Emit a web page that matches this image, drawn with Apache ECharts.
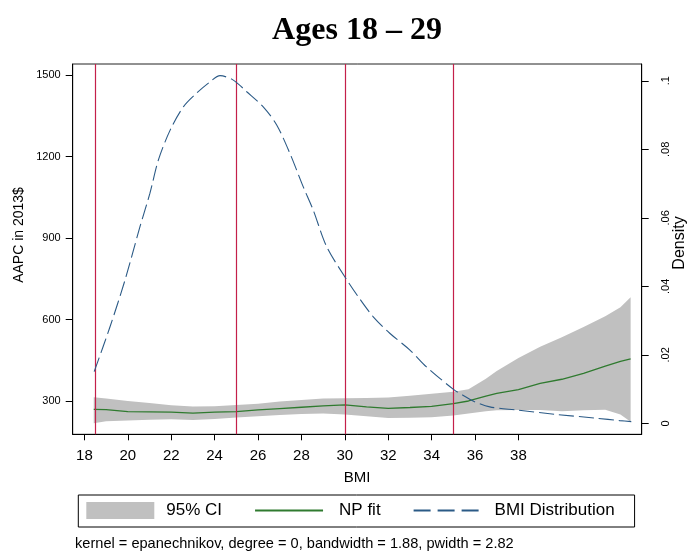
<!DOCTYPE html>
<html>
<head>
<meta charset="utf-8">
<script src="https://cdn.jsdelivr.net/npm/echarts@6/dist/echarts.min.js"></script>
<style>html,body{margin:0;padding:0;background:#fff}#c{width:694px;height:552px}</style>
</head>
<body>
<div id="c"></div>
<script>
// ---- data ----
const fitBmi   = [18.43, 19, 20, 21, 22, 23, 24, 25, 26, 27, 28, 29, 30, 31, 32, 33, 34, 35, 35.7, 36.5, 37, 38, 39, 40, 41, 42, 42.7, 43.17];
const npFit    = [269, 268, 261, 260, 259, 255, 259, 261, 267, 272, 277, 282, 286, 278, 273, 276, 280, 290, 300, 318, 328, 342, 365, 380, 402, 428, 446, 455];
const ciUpper  = [314, 309, 300, 293, 284, 280, 281, 285, 290, 298, 304, 309, 310, 311, 313, 319, 327, 334, 343, 382, 410, 458, 500, 535, 572, 612, 645, 682];
const ciLower  = [218, 225, 228, 231, 233, 230, 234, 239, 244, 248, 252, 254, 250, 244, 237, 238, 240, 247, 254, 262, 266, 267, 267, 262, 266, 268, 250, 224];
const densBmi  = [18.45, 19.18, 19.87, 20.56, 21.02, 21.41, 21.95, 22.56, 23.17, 23.79, 24.25, 24.86, 25.48, 26.24, 26.86, 27.47, 28.08, 28.54, 29.16, 30.05, 30.69, 31.31, 32.07, 33.0, 33.76, 34.99, 35.5, 35.91, 36.68, 37.91, 39.75, 41.59, 42.66, 43.2];
const densVal  = [0.0151, 0.0282, 0.0418, 0.0574, 0.0672, 0.0769, 0.0856, 0.0924, 0.0964, 0.0997, 0.1015, 0.1002, 0.0968, 0.0924, 0.0871, 0.0788, 0.0691, 0.0623, 0.0516, 0.0423, 0.0363, 0.0311, 0.0263, 0.0214, 0.0165, 0.0100, 0.0080, 0.0065, 0.0048, 0.0039, 0.0026, 0.0015, 0.0008, 0.0005];
const cutoffs  = [18.5, 25, 30, 35];
const xTicks   = [18, 20, 22, 24, 26, 28, 30, 32, 34, 36, 38];
const yTicks   = [300, 600, 900, 1200, 1500];
const y2Ticks  = [0, 0.02, 0.04, 0.06, 0.08, 0.1];
const titleText = 'Ages 18 – 29';
const noteText = 'kernel = epanechnikov, degree = 0, bandwidth = 1.88, pwidth = 2.82';

const GREEN = '#2f7a2f', NAVY = '#2b5a86', RED = '#c4204a', GRAY = '#c0c0c0';
const SANS = 'Liberation Sans, Arial, sans-serif';

const bandData  = fitBmi.map((x, i) => [x, ciLower[i], ciUpper[i]]);
const fitData   = fitBmi.map((x, i) => [x, npFit[i]]);
const densData  = densBmi.map((x, i) => [x, densVal[i]]);

const chart = echarts.init(document.getElementById('c'), null, {renderer: 'canvas'});
chart.setOption({
  animation: false,
  backgroundColor: '#fff',
  title: {
    text: titleText, left: 352, top: 10, textAlign: 'center',
    textStyle: {fontFamily: 'Liberation Serif, Times New Roman, serif', fontWeight: 'bold', fontSize: 32, color: '#000'}
  },
  grid: {left: 72.7, right: 52.3, top: 64, bottom: 117.7, show: true, borderColor: '#222', borderWidth: 1, containLabel: false},
  xAxis: {
    type: 'value', min: 17.46, max: 43.68,
    name: 'BMI', nameLocation: 'middle', nameGap: 36,
    nameTextStyle: {fontFamily: SANS, fontSize: 15, color: '#000'},
    axisLine: {show: true, onZero: false, lineStyle: {color: '#000', width: 1}},
    axisTick: {show: true, customValues: xTicks, length: 6, lineStyle: {color: '#000'}},
    axisLabel: {customValues: xTicks, fontFamily: SANS, fontSize: 15, color: '#000', margin: 14},
    splitLine: {show: false}
  },
  yAxis: [{
    type: 'value', min: 177.4, max: 1540.5, position: 'left',
    axisLine: {show: true, onZero: false, lineStyle: {color: '#000', width: 1}},
    axisTick: {show: true, customValues: yTicks, length: 7, lineStyle: {color: '#000'}},
    axisLabel: {customValues: yTicks, fontFamily: SANS, fontSize: 11, color: '#000', margin: 12,
      formatter: v => String(v)},
    splitLine: {show: false}
  }, {
    type: 'value', min: -0.0032, max: 0.1049, position: 'right',
    axisLine: {show: true, onZero: false, lineStyle: {color: '#000', width: 1}},
    axisTick: {show: true, customValues: y2Ticks, length: 7, lineStyle: {color: '#000'}},
    axisLabel: {
      customValues: y2Ticks, fontFamily: SANS, fontSize: 11, color: '#000', margin: 19, rotate: 90,
      formatter: v => (v === 0 ? '0' : String(+v.toFixed(2)).replace(/^0/, ''))
    },
    splitLine: {show: false}
  }],
  legend: {
    left: 78.3, top: 495, orient: 'horizontal',
    padding: [7, 20, 8, 8],
    borderColor: '#000', borderWidth: 1,
    itemWidth: 68, itemHeight: 17, itemGap: 32,
    textStyle: {fontFamily: SANS, fontSize: 17, color: '#000', padding: [0, 0, 0, 7]},
    data: [
      {name: '95% CI', icon: 'rect', itemStyle: {color: GRAY, borderWidth: 0}},
      {name: 'NP fit', itemStyle: {opacity: 0}, textStyle: {padding: [0, 9, 0, 11]}},
      {name: 'BMI Distribution', itemStyle: {opacity: 0}, textStyle: {padding: [0, 0, 0, 8]}, lineStyle: {type: [17, 7]}}
    ]
  },
  graphic: [
    {type: 'text', x: 19, y: 235, rotation: Math.PI / 2,
     style: {text: 'AAPC in 2013$', fontFamily: SANS, fontSize: 14, fill: '#000', align: 'center', verticalAlign: 'middle'}},
    {type: 'text', x: 680, y: 243, rotation: Math.PI / 2,
     style: {text: 'Density', fontFamily: SANS, fontSize: 16, fill: '#000', align: 'center', verticalAlign: 'middle'}},
    {type: 'text', x: 75, y: 544,
     style: {text: noteText, fontFamily: SANS, fontSize: 14.6, fill: '#000', align: 'left', verticalAlign: 'middle'}}
  ],
  series: [
    {name: '95% CI', type: 'custom', data: bandData, silent: true, z: 1,
     itemStyle: {color: GRAY},
     encode: {x: 0, y: [1, 2]},
     renderItem: (params, api) => {
       if (params.dataIndex !== 0) return null;
       const up = bandData.map(d => api.coord([d[0], d[2]]));
       const lo = bandData.map(d => api.coord([d[0], d[1]])).reverse();
       return {type: 'polygon', shape: {points: up.concat(lo)}, style: {fill: GRAY, stroke: null}};
     }},
    {name: 'cutoffs', type: 'line', data: [], symbol: 'none', z: 3,
     markLine: {symbol: ['none', 'none'], silent: true, label: {show: false},
       lineStyle: {color: RED, width: 1.2, type: 'solid'},
       data: cutoffs.map(v => ({xAxis: v}))}},
    {name: 'NP fit', type: 'line', data: fitData, symbol: 'none', itemStyle: {color: GREEN}, lineStyle: {color: GREEN, width: 1.3}, z: 4},
    {name: 'BMI Distribution', type: 'line', yAxisIndex: 1, data: densData, symbol: 'none', smooth: 0.3,
     itemStyle: {color: NAVY}, lineStyle: {color: NAVY, width: 1.1, type: [15, 5]}, z: 5}
  ]
});
</script>
</body>
</html>
